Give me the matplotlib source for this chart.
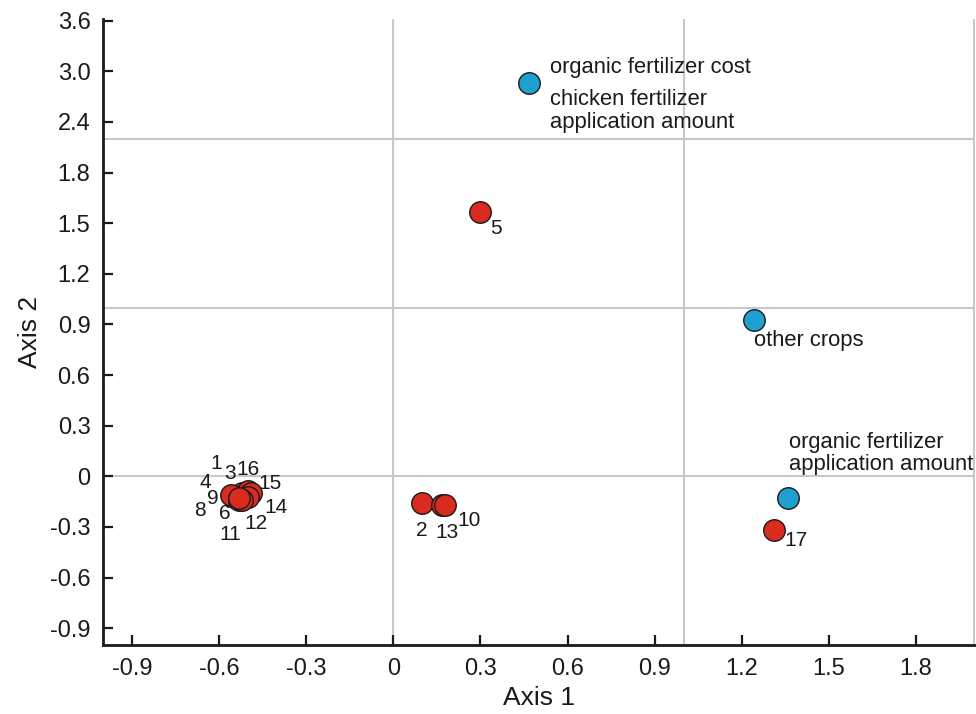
import matplotlib.pyplot as plt
import numpy as np

plt.rcParams['font.family'] = ['Liberation Sans', 'DejaVu Sans']

# samples (red)
sample_ids = ['1', '3', '16', '4', '15', '9', '8', '6', '14', '12', '11',
              '2', '13', '10', '5', '17']
sample_x = [-0.52, -0.51, -0.50, -0.55, -0.49, -0.54, -0.56, -0.53, -0.50, -0.52, -0.53,
            0.10, 0.166, 0.179, 0.297, 1.31]
sample_y = [-0.10, -0.11, -0.09, -0.12, -0.10, -0.13, -0.11, -0.14, -0.12, -0.14, -0.13,
            -0.16, -0.172, -0.172, 1.567, -0.32]
# where each sample number sits (data coords)
label_x = [-0.610, -0.562, -0.500, -0.648, -0.424, -0.621, -0.666, -0.579, -0.403, -0.472, -0.562,
           0.097, 0.183, 0.259, 0.352, 1.386]
label_y = [0.077, 0.018, 0.042, -0.036, -0.042, -0.131, -0.202, -0.220, -0.184, -0.279, -0.344,
           -0.320, -0.332, -0.261, 1.466, -0.380]

# variables (blue)
var_x = [0.466, 1.241, 1.359]
var_y = [2.33, 0.926, -0.131]
var_text = ['organic fertilizer cost', 'chicken fertilizer\napplication amount',
            'other crops', 'organic fertilizer\napplication amount']
var_text_x = [0.538, 0.538, 1.241, 1.362]
var_text_y = [2.42, 2.163, 0.807, 0.134]

x_ticks = [-0.9, -0.6, -0.3, 0, 0.3, 0.6, 0.9, 1.2, 1.5, 1.8]
x_tick_labels = ['-0.9', '-0.6', '-0.3', '0', '0.3', '0.6', '0.9', '1.2', '1.5', '1.8']
y_ticks = [-0.9, -0.6, -0.3, 0, 0.3, 0.6, 0.9, 1.2, 1.5, 1.8, 2.1, 2.4, 2.7]
y_tick_labels = ['-0.9', '-0.6', '-0.3', '0', '0.3', '0.6', '0.9', '1.2', '1.5', '1.8',
                 '2.4', '3.0', '3.6']

RED = '#d92b1f'
BLUE = '#1fa0d0'

fig = plt.figure(figsize=(9.76, 7.14), dpi=100)
ax = fig.add_axes([0.1055, 0.0966, 0.8935, 0.8768])

# reference lines at integer positions
for v in [0, 1, 2]:
    ax.axvline(v, color='#c8c8c8', lw=1.5, zorder=1)
    ax.axhline(v, color='#c8c8c8', lw=1.5, zorder=1)

ax.scatter(sample_x, sample_y, s=240, c=RED, edgecolors='#1a1a1a', linewidths=1.0, zorder=3)
ax.scatter(var_x, var_y, s=240, c=BLUE, edgecolors='#1a1a1a', linewidths=1.0, zorder=3)

for sid, x, y in zip(sample_ids, label_x, label_y):
    ax.text(x, y, sid, ha='center', va='center', fontsize=15, color='#1a1a1a', zorder=4)

for txt, x, y in zip(var_text, var_text_x, var_text_y):
    ax.text(x, y, txt, ha='left', va='center', fontsize=15.8, color='#1a1a1a',
            linespacing=1.1, zorder=4)

ax.set_xlim(-1.0, 2.003)
ax.set_ylim(-1.0, 2.71)
ax.set_xticks(x_ticks)
ax.set_xticklabels(x_tick_labels)
ax.set_yticks(y_ticks)
ax.set_yticklabels(y_tick_labels)
ax.tick_params(direction='in', length=7, width=1.6, labelsize=17, pad=9, colors='#1a1a1a')

for side in ['top', 'right']:
    ax.spines[side].set_visible(False)
for side in ['left', 'bottom']:
    ax.spines[side].set_linewidth(2)
    ax.spines[side].set_color('#1a1a1a')

ax.set_xlabel('Axis 1', fontsize=19, labelpad=5, color='#1a1a1a')
ax.set_ylabel('Axis 2', fontsize=19, labelpad=6, color='#1a1a1a')

plt.savefig('out.png', dpi=100)
plt.close()
